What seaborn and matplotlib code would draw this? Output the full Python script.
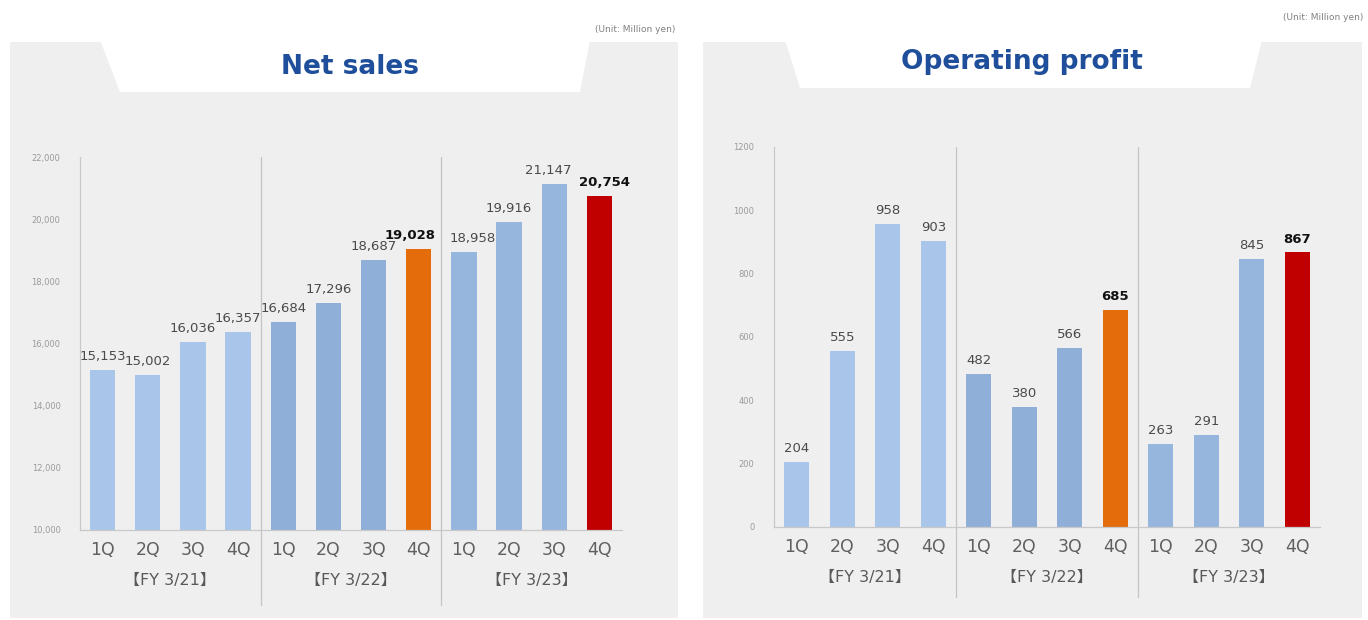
import numpy as np
import pandas as pd
import matplotlib
matplotlib.use("Agg")
import matplotlib.pyplot as plt
import matplotlib.transforms as mtrans
from matplotlib.patches import Rectangle, Polygon
import seaborn as sns

# ---------------- data ----------------
quarters = ["1Q", "2Q", "3Q", "4Q"] * 3
fiscal_years = ["【FY 3/21】", "【FY 3/22】", "【FY 3/23】"]
net_sales = [15153, 15002, 16036, 16357, 16684, 17296, 18687, 19028, 18958, 19916, 21147, 20754]
operating_profit = [204, 555, 958, 903, 482, 380, 566, 685, 263, 291, 845, 867]
highlight = [False] * 7 + [True] + [False] * 3 + [True]
net_sales_ticks = [10000, 12000, 14000, 16000, 18000, 20000, 22000]
op_ticks = [0, 200, 400, 600, 800, 1000, 1200]
bar_colors = ["#A9C6EA"] * 4 + ["#8FAFD9"] * 3 + ["#E46C0A"] + ["#97B6DE"] * 3 + ["#C00000"]

sns.set_theme(style="white")
plt.rcParams["font.family"] = ["DejaVu Sans", "Noto Sans CJK JP"]

W, H = 1368, 620
fig = plt.figure(figsize=(W / 100, H / 100), dpi=100)
fig.patch.set_facecolor("white")


def fx(px):
    return px / W


def fy(py):
    return 1 - py / H


PANEL = "#EFEFEF"
for (x0, x1) in [(10, 678), (703, 1362)]:
    fig.patches.append(Rectangle((fx(x0), fy(618)), fx(x1 - x0), (618 - 42) / H,
                                 transform=fig.transFigure, facecolor=PANEL,
                                 edgecolor="none", zorder=-3))
for pts in [[(100, 40), (590, 40), (580, 92), (120, 92)],
            [(785, 40), (1262, 40), (1250, 88), (800, 88)]]:
    fig.patches.append(Polygon([(fx(a), fy(b)) for a, b in pts], closed=True,
                               transform=fig.transFigure, facecolor="white",
                               edgecolor="none", zorder=-2))

TITLE_COLOR = "#1F4E9A"
fig.text(fx(350), fy(67), "Net sales", ha="center", va="center", fontsize=19,
         fontweight="bold", color=TITLE_COLOR)
fig.text(fx(1022), fy(62), "Operating profit", ha="center", va="center", fontsize=19,
         fontweight="bold", color=TITLE_COLOR)
fig.text(fx(675), fy(30), "(Unit: Million yen)", ha="right", va="center",
         fontsize=6.5, color="#808080")
fig.text(fx(1363), fy(17), "(Unit: Million yen)", ha="right", va="center",
         fontsize=6.5, color="#808080")

ax1 = fig.add_axes([fx(80), fy(530), fx(622 - 80), (530 - 157) / H])
ax2 = fig.add_axes([fx(774), fy(527), fx(1320 - 774), (527 - 147) / H])


def draw(ax, values, ticks, fmt, sep_below, label_shift):
    df = pd.DataFrame({"key": [str(i) for i in range(len(values))], "value": values})
    sns.barplot(data=df, x="key", y="value", hue="key", palette=bar_colors,
                legend=False, width=0.56, saturation=1, ax=ax,
                linewidth=0, edgecolor="none")
    ax.set_facecolor("none")
    ax.set_xlim(-0.5, 11.5)
    ax.set_ylim(ticks[0], ticks[-1])
    ax.set_yticks(ticks)
    ax.set_yticklabels([fmt(t) for t in ticks])
    ax.set_xticks(range(12))
    ax.set_xticklabels(quarters)
    ax.set_xlabel("")
    ax.set_ylabel("")
    ax.tick_params(axis="x", length=0, pad=8, labelsize=12.5, labelcolor="#606060")
    ax.tick_params(axis="y", length=0, pad=14, labelsize=6, labelcolor="#9A9A9A")
    for s in ["top", "right"]:
        ax.spines[s].set_visible(False)
    for s in ["left", "bottom"]:
        ax.spines[s].set_color("#C8C8C8")
        ax.spines[s].set_linewidth(0.9)
    trans = mtrans.blended_transform_factory(ax.transData, ax.transAxes)
    for x in [3.5, 7.5]:
        ax.plot([x, x], [-sep_below, 1.0], transform=trans, color="#C4C4C4",
                lw=0.9, clip_on=False)
    for g, lab in enumerate(fiscal_years):
        ax.annotate(lab, xy=(1.5 + 4 * g, 0), xycoords=trans, xytext=(0, -36),
                    textcoords="offset points", ha="center", va="center",
                    fontsize=11.5, color="#595959")
    for i, v in enumerate(values):
        bold = highlight[i]
        dx = label_shift.get(i, 0)
        ax.annotate(fmt(v), xy=(i, v), xytext=(dx, 5), textcoords="offset points",
                    ha="center", va="bottom", fontsize=9.5,
                    fontweight="bold" if bold else "normal",
                    color="#111111" if bold else "#4A4A4A")


draw(ax1, net_sales, net_sales_ticks, lambda v: f"{v:,}", 0.2, {7: -6, 8: 6, 10: -4, 11: 4})
draw(ax2, operating_profit, op_ticks, lambda v: f"{v}", 0.184, {})

fig.savefig("out.png", dpi=100, facecolor="white")
